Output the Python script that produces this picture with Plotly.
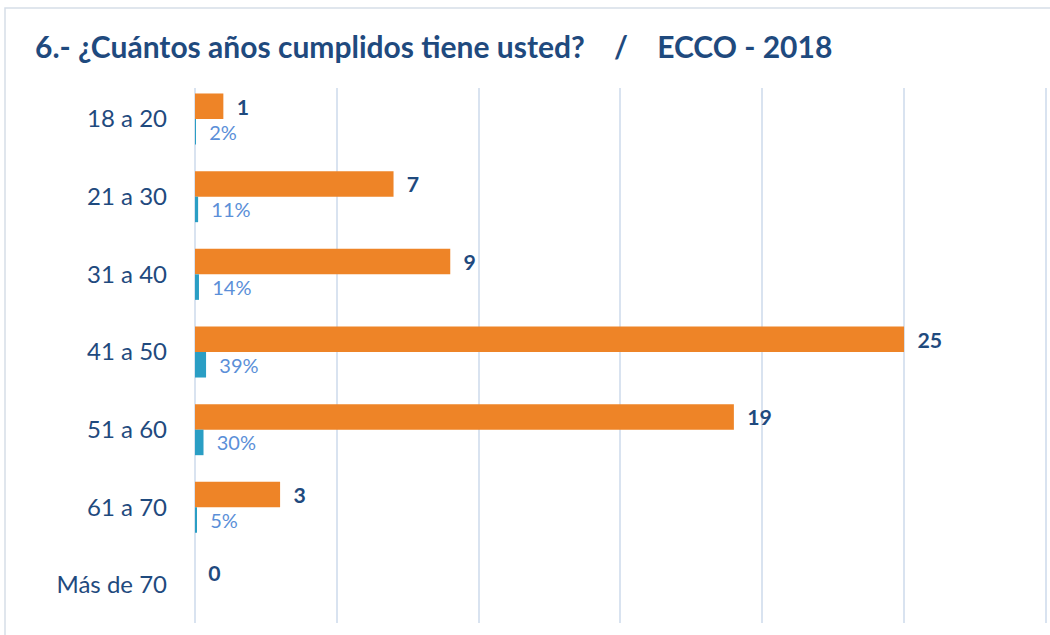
import plotly.graph_objects as go

categories = ["18 a 20", "21 a 30", "31 a 40", "41 a 50", "51 a 60", "61 a 70", "Más de 70"]
counts = [1, 7, 9, 25, 19, 3, 0]
shares = [0.02, 0.11, 0.14, 0.39, 0.30, 0.05, 0.0]
share_labels = ["2%", "11%", "14%", "39%", "30%", "5%", ""]

NAVY = "#1F4A7E"
ORANGE = "#EE8427"
TEAL = "#2A9EC4"
TEAL_TXT = "#5B8FD8"
GRID = "#D9E3F0"
NB = "\u00a0"

fig = go.Figure()
fig.add_trace(go.Bar(
    y=categories, x=counts, orientation="h", name="Cantidad",
    marker=dict(color=ORANGE, line=dict(width=0)),
    text=[NB * 2 + str(c) for c in counts], textposition="outside",
    textfont=dict(family="Lato", size=25, color=NAVY, weight=700),
    cliponaxis=False,
))
fig.add_trace(go.Bar(
    y=categories, x=shares, orientation="h", name="Porcentaje",
    marker=dict(color=TEAL, line=dict(width=0)),
    text=[(NB * 2 + s) if s else "" for s in share_labels], textposition="outside",
    textfont=dict(family="Lato", size=20, color=TEAL_TXT),
    cliponaxis=False,
))

fig.update_layout(
    width=1050, height=635,
    margin=dict(l=195, r=3, t=88, b=12),
    paper_bgcolor="white", plot_bgcolor="white",
    barmode="group", bargap=0.343, bargroupgap=0,
    showlegend=False,
    title=dict(
        text="6.- ¿Cuántos años cumplidos tiene usted?" + NB * 4 + "/" + NB * 4 + "ECCO - 2018",
        x=35 / 1050, xanchor="left", xref="container",
        y=1 - 47 / 635, yanchor="middle", yref="container",
        font=dict(family="Lato", size=30, color=NAVY, weight=700),
    ),
    xaxis=dict(
        range=[0, 30.04], dtick=5, tick0=0,
        showgrid=True, gridcolor=GRID, gridwidth=1.5,
        zeroline=True, zerolinecolor=GRID, zerolinewidth=1.5,
        showline=False, showticklabels=False, ticks="",
    ),
    yaxis=dict(
        autorange=False, range=[6.489, -0.399],
        showgrid=False, zeroline=False, showline=False, ticks="",
        ticklabelstandoff=27,
        tickfont=dict(family="Lato", size=24, color=NAVY),
    ),
    shapes=[dict(
        type="rect", layer="below",
        xref="paper", xsizemode="pixel", xanchor=0, x0=-190, x1=900,
        yref="paper", ysizemode="pixel", yanchor=1, y0=80, y1=-700,
        line=dict(color="#D6DEE8", width=1.5), fillcolor="rgba(0,0,0,0)",
    )],
)

fig.write_html(
    "out.html",
    config={"displayModeBar": False},
    post_script="document.body.style.margin='0px';document.body.style.overflow='hidden';",
)
